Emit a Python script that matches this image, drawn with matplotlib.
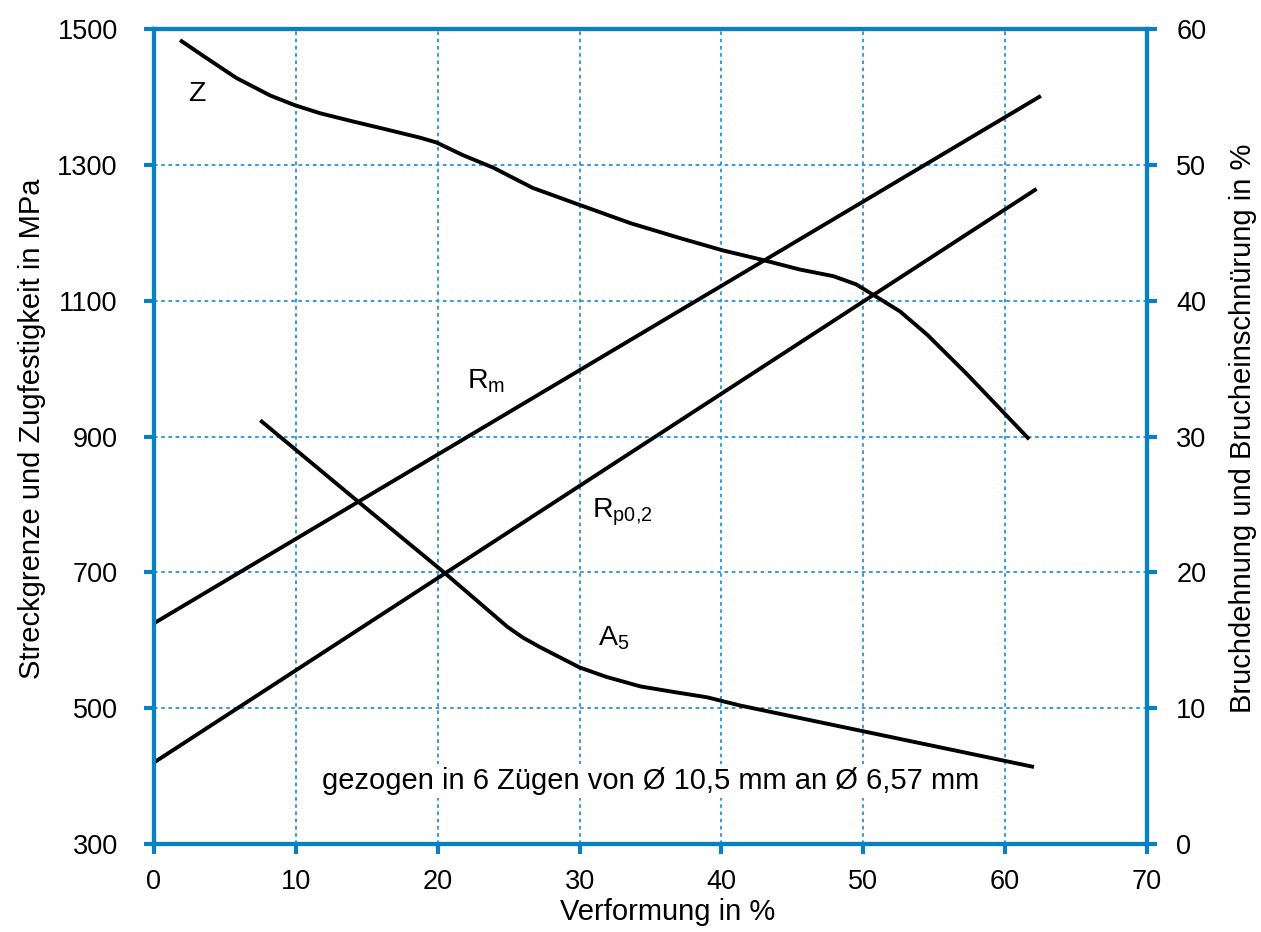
import matplotlib

matplotlib.use("Agg")
import matplotlib.pyplot as plt

plt.rcParams["font.family"] = ["Liberation Sans", "DejaVu Sans"]
plt.rcParams["mathtext.fontset"] = "custom"
plt.rcParams["mathtext.rm"] = "Liberation Sans"

BLUE = "#0a80c4"
GRID = "#2a93d5"

# strength lines (left axis, MPa)
rm_x = [0.0, 62.4]
rm_y = [625, 1400]
rp_x = [0.0, 62.1]
rp_y = [420, 1263]

# reduction of area Z (right axis, %)
z_x = [1.95, 3.5, 5.8, 8.2, 9.9, 11.7, 14.0, 16.4, 18.75, 19.9, 21.8, 23.9, 26.7,
       30.0, 33.6, 37.1, 40.1, 42.9, 45.5, 47.9, 49.5, 50.9, 52.6, 54.5, 57.3, 61.6]
z_y = [59.1, 58.0, 56.4, 55.1, 54.4, 53.8, 53.2, 52.6, 52.0, 51.65, 50.7, 49.8, 48.3,
       47.05, 45.7, 44.6, 43.7, 43.0, 42.3, 41.8, 41.2, 40.3, 39.2, 37.5, 34.6, 29.9]

# elongation A5 (right axis, %)
a5_x = [7.6, 14.4, 20.5, 24.9, 26.0, 27.2, 30.0, 31.9, 34.3, 36.6, 39.0, 41.3, 50.0, 61.9]
a5_y = [31.1, 25.2, 19.95, 16.0, 15.2, 14.5, 13.0, 12.3, 11.6, 11.2, 10.8, 10.2, 8.3, 5.7]

fig = plt.figure(figsize=(12.61, 9.32), dpi=100)
ax = fig.add_axes([0.1221, 0.0944, 0.7875, 0.8745])
ax2 = ax.twinx()

ax.set_xlim(0, 70)
ax.set_ylim(300, 1500)
ax2.set_ylim(0, 60)
ax.set_xticks(range(0, 71, 10))
ax.set_yticks(range(300, 1501, 200))
ax2.set_yticks(range(0, 61, 10))

for a in (ax, ax2):
    for side in a.spines.values():
        side.set_color(BLUE)
        side.set_linewidth(3)
ax.tick_params(axis="x", direction="out", length=7, width=3, color=BLUE,
               labelsize=19.5, pad=11)
ax.tick_params(axis="y", direction="out", length=7, width=3, color=BLUE,
               labelsize=19.5, pad=19)
ax2.tick_params(axis="y", direction="out", length=7, width=3, color=BLUE,
                labelsize=19.5, pad=14)

for gx in range(10, 70, 10):
    ax.axvline(gx, color=GRID, lw=1.3, ls=(0, (2, 2)), zorder=0.5)
for gy in range(500, 1500, 200):
    ax.axhline(gy, color=GRID, lw=1.3, ls=(0, (2, 2)), zorder=0.5)

ax.plot(rm_x, rm_y, color="black", lw=2.8, zorder=3)
ax.plot(rp_x, rp_y, color="black", lw=2.8, zorder=3)
ax2.plot(z_x, z_y, color="black", lw=2.8, solid_joinstyle="round")
ax2.plot(a5_x, a5_y, color="black", lw=2.8, solid_joinstyle="round")

ax.text(3.0, 1405, "Z", fontsize=20.5, ha="center", va="center")
ax.text(22.1, 982, r"R$_\mathregular{m}$", fontsize=20.5, ha="left", va="center")
ax.text(30.9, 789, r"R$_\mathregular{p0{,}2}$", fontsize=20.5, ha="left", va="center")
ax.text(31.3, 603, r"A$_\mathregular{5}$", fontsize=20.5, ha="left", va="center")
ax.text(35.0, 393, "gezogen in 6 Zügen von Ø 10,5 mm an Ø 6,57 mm", fontsize=21,
        ha="center", va="center", zorder=4,
        bbox=dict(facecolor="white", edgecolor="none", pad=2))

ax.set_xlabel("Verformung in %", fontsize=21, labelpad=2)
ax.set_ylabel("Streckgrenze und Zugfestigkeit in MPa", fontsize=21, labelpad=8)
ax2.set_ylabel("Bruchdehnung und Brucheinschnürung in %", fontsize=21, labelpad=16)
ax.xaxis.label.set_x(0.5176)
ax.yaxis.label.set_y(0.51)
ax2.yaxis.label.set_y(0.51)

fig.savefig("out.png", dpi=100)
